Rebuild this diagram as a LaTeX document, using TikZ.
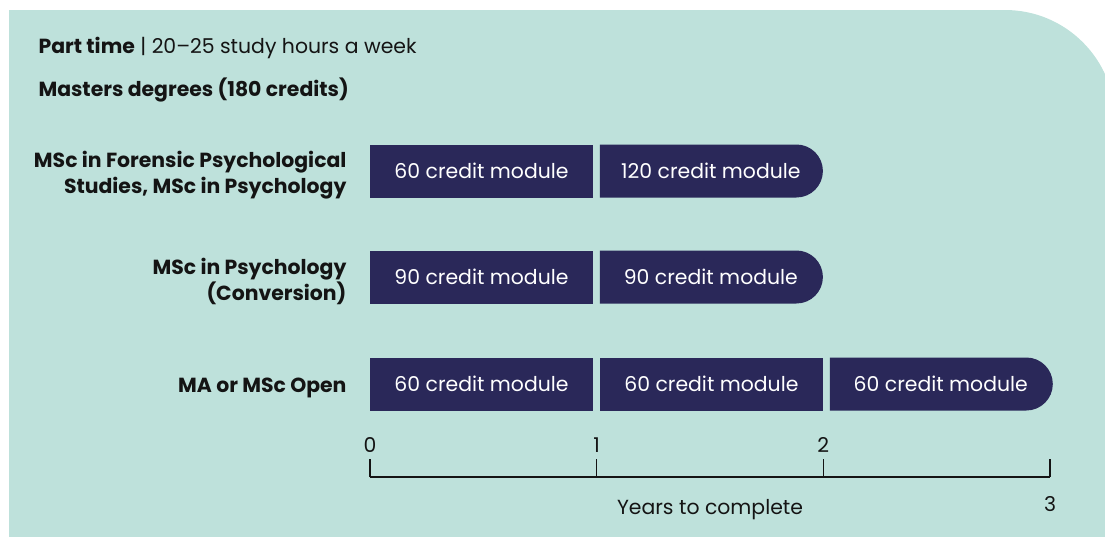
\documentclass[tikz,border=0pt]{standalone}
\usepackage{fontspec}
\setmainfont{Poppins}
\usetikzlibrary{positioning, shapes.misc}
\definecolor{mint}{RGB}{190,225,219}
\definecolor{navy}{RGB}{42,40,89}
\definecolor{ink}{RGB}{20,20,20}
\newcommand{\txtsize}{\fontsize{20.4}{26}\selectfont}
\tikzset{
    node distance=6.5pt, % gap between two modules
    every node/.style={ % all texts
        font=\txtsize,
        text=ink
    },
    module/.style={ % one block of study
        fill=navy,
        text=white,
        minimum width=223pt,
        minimum height=53pt,
        inner sep=0pt
    },
    endmodule/.style={ % last block, round at its right end
        module,
        rounded rectangle,
        rounded rectangle west arc=none
    },
    degree/.style={
        anchor=east,
        align=right,
        font=\txtsize\bfseries
    },
    axis/.style={draw=ink, line width=1.2pt},
}

\begin{document}
\begin{tikzpicture}[x=1pt, y=-1pt]
    \useasboundingbox (0,0) rectangle (1105,536);
    % background panel
    \fill[mint] (9,560) -- (9,10) [rounded corners=110pt] -- (1115,10) [sharp corners] -- (1115,560) -- cycle;

    % heading
    \node[anchor=base west] (part) at (35,53) {\textbf{Part time} | 20–25 study hours a week};
    \node[anchor=base west, font=\txtsize\bfseries] (masters) at (35,96) {Masters degrees (180 credits)};

    % rows
    \node[degree]   (forensic)  at (350,175)  {MSc in Forensic Psychological\\Studies, MSc in Psychology};
    \node[degree]   (conv)      at (350,281)  {MSc in Psychology\\(Conversion)};
    \node[degree]   (open)      at (350,388)  {MA or MSc Open};

    \node[module]                       (f1)    at (481.5,171)  {60 credit module};
    \node[endmodule, right=of f1]       (f2)                    {120 credit module};

    \node[module]                       (c1)    at (481.5,277)  {90 credit module};
    \node[endmodule, right=of c1]       (c2)                    {90 credit module};

    \node[module]                       (o1)    at (481.5,384)  {60 credit module};
    \node[module, right=of o1]          (o2)                    {60 credit module};
    \node[endmodule, right=of o2]       (o3)                    {60 credit module};

    % years axis
    \foreach \i/\xx in {0/370, 1/596.7, 2/823.3, 3/1050} {
        \coordinate (y\i) at (\xx,477);
        \coordinate (k\i) at (\xx,459);
        \draw[axis] (y\i) -- (k\i);
    }
    \draw[axis] (y0) -- (y3);
    \node (n0) at (370,445)     {0};
    \node (n1) at (596.7,445)   {1};
    \node (n2) at (823.3,445)   {2};
    \node (n3) at (1050,504)    {3};
    \node (years) at (710,510)  {Years to complete};
\end{tikzpicture}
\end{document}
